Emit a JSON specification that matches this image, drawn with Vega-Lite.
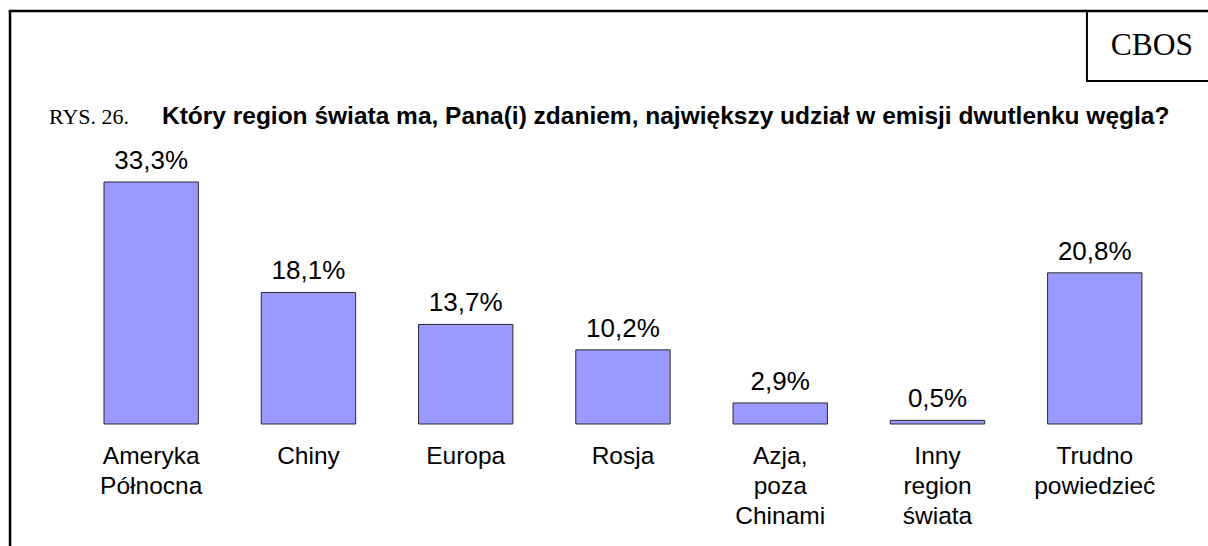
{
  "$schema": "https://vega.github.io/schema/vega-lite/v6.json",
  "width": 1198,
  "height": 535,
  "autosize": "none",
  "padding": {"left": 10, "top": 11, "right": 0, "bottom": 0},
  "background": "white",
  "config": {"view": {"stroke": null}},
  "data": {"values": [
    {"region": "Ameryka Północna", "pct": 33.3, "label": "33,3%"},
    {"region": "Chiny", "pct": 18.1, "label": "18,1%"},
    {"region": "Europa", "pct": 13.7, "label": "13,7%"},
    {"region": "Rosja", "pct": 10.2, "label": "10,2%"},
    {"region": "Azja, poza Chinami", "pct": 2.9, "label": "2,9%"},
    {"region": "Inny region świata", "pct": 0.5, "label": "0,5%"},
    {"region": "Trudno powiedzieć", "pct": 20.8, "label": "20,8%"}
  ]},
  "layer": [
    {
      "mark": {"type": "bar", "fill": "#9999FF", "stroke": "#2a2a2a", "strokeWidth": 1},
      "encoding": {
        "x": {"field": "region", "type": "nominal", "sort": null, "axis": null,
              "scale": {"range": [62.55, 1163.4], "paddingInner": 0.4, "paddingOuter": 0.2}},
        "y": {"field": "pct", "type": "quantitative", "axis": null,
              "scale": {"domain": [0, 56.83], "range": [413, 0], "nice": false, "zero": true}}
      }
    },
    {
      "mark": {"type": "text", "font": "Liberation Sans", "fontSize": 26, "dy": -13, "baseline": "alphabetic", "align": "center", "color": "black"},
      "encoding": {
        "x": {"field": "region", "type": "nominal", "sort": null},
        "y": {"field": "pct", "type": "quantitative"},
        "text": {"field": "label"}
      }
    },
    {
      "mark": {"type": "text", "font": "Liberation Sans", "fontSize": 24.5, "dy": 40, "lineBreak": " ", "lineHeight": 30, "baseline": "alphabetic", "align": "center", "color": "black"},
      "encoding": {
        "x": {"field": "region", "type": "nominal", "sort": null},
        "y": {"datum": 0},
        "text": {"field": "region"}
      }
    },
    {
      "data": {"values": [{"part": "frame left"}]},
      "mark": {"type": "rule", "stroke": "black", "strokeWidth": 2.5},
      "encoding": {
        "x": {"datum": "Ameryka Północna", "bandPosition": -0.996},
        "y": {"datum": 56.83},
        "y2": {"datum": -20}
      }
    },
    {
      "data": {"values": [{"part": "frame top"}]},
      "mark": {"type": "rule", "stroke": "black", "strokeWidth": 2.5},
      "encoding": {
        "x": {"datum": "Ameryka Północna", "bandPosition": -1.01},
        "x2": {"datum": "Trudno powiedzieć", "bandPosition": 2.5},
        "y": {"datum": 56.83}
      }
    },
    {
      "data": {"values": [{"part": "box left"}]},
      "mark": {"type": "rule", "stroke": "black", "strokeWidth": 2},
      "encoding": {
        "x": {"datum": "Trudno powiedzieć", "bandPosition": 0.417},
        "y": {"datum": 56.83},
        "y2": {"datum": 47.2}
      }
    },
    {
      "data": {"values": [{"part": "box bottom"}]},
      "mark": {"type": "rule", "stroke": "black", "strokeWidth": 2},
      "encoding": {
        "x": {"datum": "Trudno powiedzieć", "bandPosition": 0.407},
        "x2": {"datum": "Trudno powiedzieć", "bandPosition": 2.5},
        "y": {"datum": 47.2}
      }
    },
    {
      "data": {"values": [{"text": "CBOS"}]},
      "mark": {"type": "text", "font": "Liberation Serif", "fontSize": 31.5, "align": "center", "baseline": "alphabetic", "color": "black"},
      "encoding": {
        "x": {"datum": "Trudno powiedzieć", "bandPosition": 1.106},
        "y": {"datum": 50.8},
        "text": {"field": "text"}
      }
    },
    {
      "data": {"values": [{"text": "RYS. 26."}]},
      "mark": {"type": "text", "font": "Liberation Serif", "fontSize": 22, "align": "left", "baseline": "alphabetic", "color": "black"},
      "encoding": {
        "x": {"datum": "Ameryka Północna", "bandPosition": -0.583},
        "y": {"datum": 41.3},
        "text": {"field": "text"}
      }
    },
    {
      "data": {"values": [{"text": "Który region świata ma, Pana(i) zdaniem, największy udział w emisji dwutlenku węgla?"}]},
      "mark": {"type": "text", "font": "Liberation Sans", "fontSize": 24.5, "fontWeight": "bold", "align": "left", "baseline": "alphabetic", "color": "black"},
      "encoding": {
        "x": {"datum": "Ameryka Północna", "bandPosition": 0.614},
        "y": {"datum": 41.3},
        "text": {"field": "text"}
      }
    }
  ]
}
